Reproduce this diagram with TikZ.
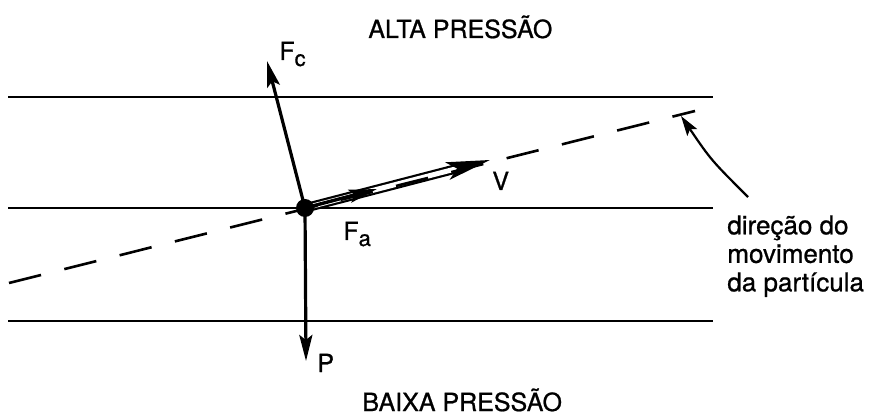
\documentclass[tikz,border=0pt]{standalone}
\usepackage{fontspec}
\setmainfont{TeX Gyre Heros}[FakeBold=0.8]
\usetikzlibrary{arrows.meta}

\tikzset{every picture/.style={line width=0.75pt}}
\tikzset{
  level/.style={line width=2pt},
  force/.style={line width=3.2pt, -{Stealth[length=26pt,width=13pt,inset=5pt]}},
  path line/.style={line width=2.6pt, dash pattern=on 33pt off 24pt},
  label/.style={inner sep=0pt, anchor=base west, font=\fontsize{25}{28.5}\selectfont},
}
\newcommand{\lowsub}[1]{\raisebox{-6pt}{\fontsize{22}{22}\selectfont #1}}

\begin{document}
\begin{tikzpicture}[x=1pt,y=1pt,yscale=-1,xscale=1]
\useasboundingbox (0,0) rectangle (875,419);

% Points
\coordinate (O) at (305,208);
\coordinate (FcTip) at (267,61);
\coordinate (PTip) at (306,361);
\coordinate (FaTip) at (377,189);
\coordinate (VTip) at (490,160);
\coordinate (dirL) at (9,283);
\coordinate (dirR) at (695,111);
\coordinate (noteA) at (748,197);
\coordinate (noteB) at (681,116);

%Straight Lines (isobars)
\draw [level] (8,97) -- (713,97) ;
\draw [level] (8,208) -- (713,208) ;
\draw [level] (8,321) -- (713,321) ;

%Straight Lines (velocity, double)
\draw [double, double distance=5pt, line width=2.2pt, -{Stealth[length=44pt,width=18pt,inset=10pt]}] (O) -- (VTip) ;

%Straight Lines (direction of motion)
\draw [path line] (dirL) -- (dirR) ;

%Straight Lines (forces)
\draw [force] (O) -- (FcTip) ;
\draw [force] (O) -- (PTip) ;
\draw [line width=3.4pt, -{Stealth[length=28pt,width=13pt,inset=5pt]}] (O) -- (FaTip) ;

%Shape: Circle
\fill (O) circle [radius=9] ;

%Curve Lines
\draw [line width=2.2pt, -{Stealth[length=20pt,width=12pt,inset=4pt]}] (noteA) .. controls (711,160) .. (noteB) ;

% Text Node
\node [label] (Fc) at (279,60) {F\lowsub{c}};
% Text Node
\node [label] (Fa) at (343,240) {F\lowsub{a}};
% Text Node
\node [label] (P) at (317,372) {P};
% Text Node
\node [label] (V) at (492,190) {V};
% Text Node
\node [label] (high) at (368,38) {ALTA PRESSÃO};
% Text Node
\node [label] (low) at (362,411) {BAIXA PRESSÃO};
% Text Node
\node [label, anchor=north west, align=left, font=\fontsize{26}{28.5}\selectfont] (note) at (727,215) {direção do\\movimento\\da partícula};

\end{tikzpicture}
\end{document}
